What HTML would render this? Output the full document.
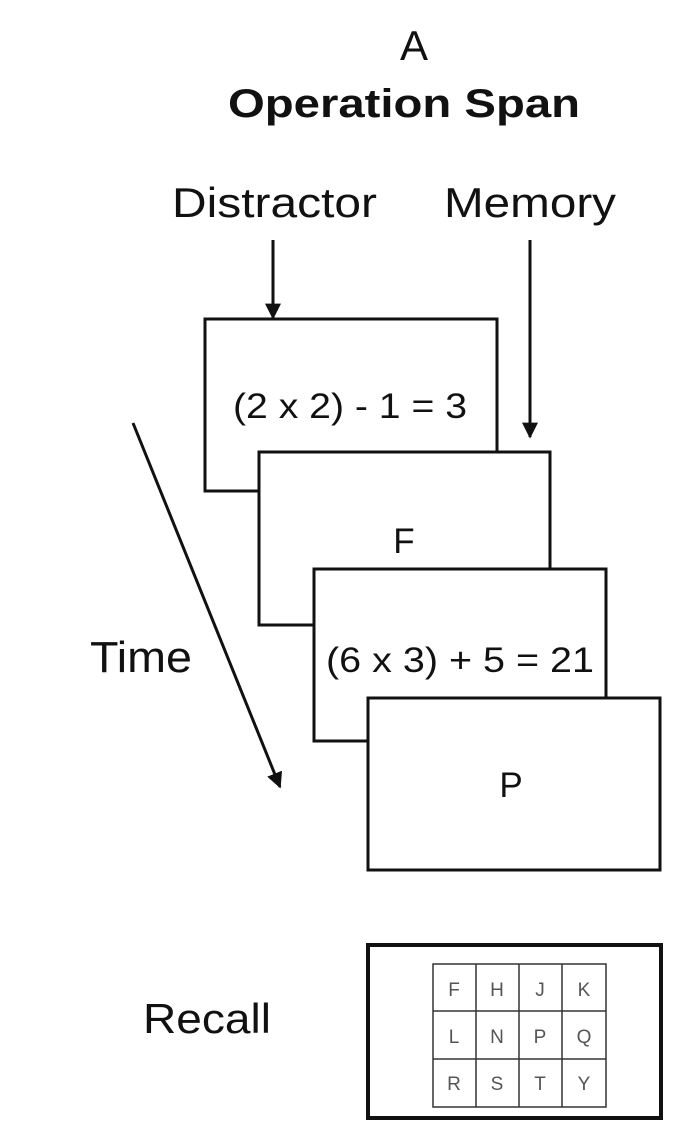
<!DOCTYPE html>
<html><head><meta charset="utf-8"><style>
html,body{margin:0;padding:0;background:#fff;}
svg{display:block;font-family:"Liberation Sans",Arial,sans-serif;}
</style></head><body>
<svg width="687" height="1142" viewBox="0 0 687 1142">
<defs>
<marker id="ah2" viewBox="0 0 10 10" refX="9" refY="5" markerWidth="16" markerHeight="16" orient="auto" markerUnits="userSpaceOnUse"><path d="M0,0 L10,5 L0,10 Z" fill="#111"/></marker></defs>
<text x="414" y="60" font-size="42" text-anchor="middle" fill="#111">A</text>
<text x="228" y="117" font-size="40" font-weight="bold" fill="#111" textLength="352" lengthAdjust="spacingAndGlyphs">Operation Span</text>
<text x="172" y="217" font-size="42" fill="#111" textLength="205" lengthAdjust="spacingAndGlyphs">Distractor</text>
<text x="444" y="217" font-size="42" fill="#111" textLength="172" lengthAdjust="spacingAndGlyphs">Memory</text>
<line x1="273" y1="240" x2="273" y2="318" stroke="#111" stroke-width="3" marker-end="url(#ah2)"/>
<line x1="530" y1="240" x2="530" y2="437" stroke="#111" stroke-width="3" marker-end="url(#ah2)"/>
<line x1="133" y1="423" x2="280" y2="787" stroke="#111" stroke-width="3" marker-end="url(#ah2)"/>
<text x="90" y="672" font-size="44" fill="#111" textLength="102" lengthAdjust="spacingAndGlyphs">Time</text>
<g stroke="#111" stroke-width="3" fill="#fff">
<rect x="205" y="319" width="292" height="172"/>
<rect x="259" y="452" width="291" height="173"/>
<rect x="314" y="569" width="292" height="172"/>
<rect x="368" y="698" width="292" height="172"/>
</g>
<text x="233" y="418" font-size="35" fill="#111" textLength="234" lengthAdjust="spacingAndGlyphs">(2 x 2) - 1 = 3</text>
<text x="404" y="553" font-size="35" fill="#111" text-anchor="middle">F</text>
<text x="326" y="672" font-size="35" fill="#111" textLength="268" lengthAdjust="spacingAndGlyphs">(6 x 3) + 5 = 21</text>
<text x="511" y="797" font-size="35" fill="#111" text-anchor="middle">P</text>
<text x="143" y="1033" font-size="42" fill="#111" textLength="128" lengthAdjust="spacingAndGlyphs">Recall</text>
<rect x="368" y="945" width="293" height="173" stroke="#111" stroke-width="4" fill="#fff"/>
<g stroke="#333" stroke-width="1.5" fill="none">
<rect x="433" y="964" width="173" height="143"/>
<line x1="476" y1="964" x2="476" y2="1107"/><line x1="519" y1="964" x2="519" y2="1107"/><line x1="562" y1="964" x2="562" y2="1107"/>
<line x1="433" y1="1011" x2="606" y2="1011"/><line x1="433" y1="1059" x2="606" y2="1059"/>
</g>
<g font-size="19" fill="#555" text-anchor="middle">
<text x="454" y="996">F</text><text x="497" y="996">H</text><text x="540" y="996">J</text><text x="584" y="996">K</text>
<text x="454" y="1043">L</text><text x="497" y="1043">N</text><text x="540" y="1043">P</text><text x="584" y="1043">Q</text>
<text x="454" y="1090">R</text><text x="497" y="1090">S</text><text x="540" y="1090">T</text><text x="584" y="1090">Y</text>
</g>
</svg>
</body></html>
